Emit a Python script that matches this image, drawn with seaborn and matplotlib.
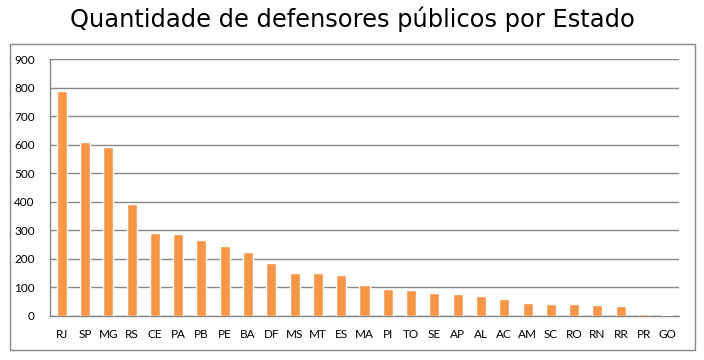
import pandas as pd
import seaborn as sns
import matplotlib.pyplot as plt
from matplotlib.patches import Rectangle
from matplotlib.ticker import FixedLocator

# data
estados = ['RJ', 'SP', 'MG', 'RS', 'CE', 'PA', 'PB', 'PE', 'BA', 'DF', 'MS', 'MT', 'ES', 'MA',
           'PI', 'TO', 'SE', 'AP', 'AL', 'AC', 'AM', 'SC', 'RO', 'RN', 'RR', 'PR', 'GO']
defensores = [788, 609, 592, 393, 292, 288, 267, 246, 225, 186, 150, 150, 144, 109,
              95, 91, 80, 77, 70, 60, 45, 42, 42, 38, 35, 7, 3]
y_ticks = [0, 100, 200, 300, 400, 500, 600, 700, 800, 900]

df = pd.DataFrame({'Estado': estados, 'Defensores': defensores})

sns.set_style('white')
plt.rcParams['font.family'] = ['Lato', 'DejaVu Sans']
plt.rcParams['text.color'] = 'black'
plt.rcParams['xtick.color'] = 'black'
plt.rcParams['ytick.color'] = 'black'

fig = plt.figure(figsize=(7.04, 3.6), dpi=100)
ax = fig.add_axes([50 / 704, 44 / 360, 629 / 704, 257 / 360])

sns.barplot(data=df, x='Estado', y='Defensores', color='#F79646', saturation=1,
            width=0.43, ax=ax, zorder=3)

ax.set_ylim(0, 900)
ax.set_xlim(-0.5, len(estados) - 0.5)
ax.set_yticks(y_ticks)
ax.yaxis.grid(True, color='#868686', linewidth=1)
ax.set_axisbelow(True)

# x ticks between categories, labels centred under bars
ax.xaxis.set_minor_locator(FixedLocator([i - 0.5 for i in range(len(estados) + 1)]))
ax.tick_params(axis='x', which='minor', length=4, width=1, color='#868686', direction='out')
ax.tick_params(axis='x', which='major', length=0, pad=9, labelsize=8.5)
ax.tick_params(axis='y', length=4, width=1, color='#868686', direction='out', pad=7, labelsize=8.5)

for s in ['top', 'right']:
    ax.spines[s].set_visible(False)
for s in ['left', 'bottom']:
    ax.spines[s].set_color('#868686')
    ax.spines[s].set_linewidth(1)

ax.set_xlabel('')
ax.set_ylabel('')

# chart frame
fig.patches.append(Rectangle((9.5 / 704, 10 / 360), 685 / 704, 306 / 360, transform=fig.transFigure,
                             fill=False, edgecolor='#868686', linewidth=1))

fig.text(0.5, 1 - 19 / 360, 'Quantidade de defensores públicos por Estado', ha='center', va='center',
         fontsize=17.4, family='DejaVu Sans', color='black')

fig.savefig('out.png', dpi=100)
